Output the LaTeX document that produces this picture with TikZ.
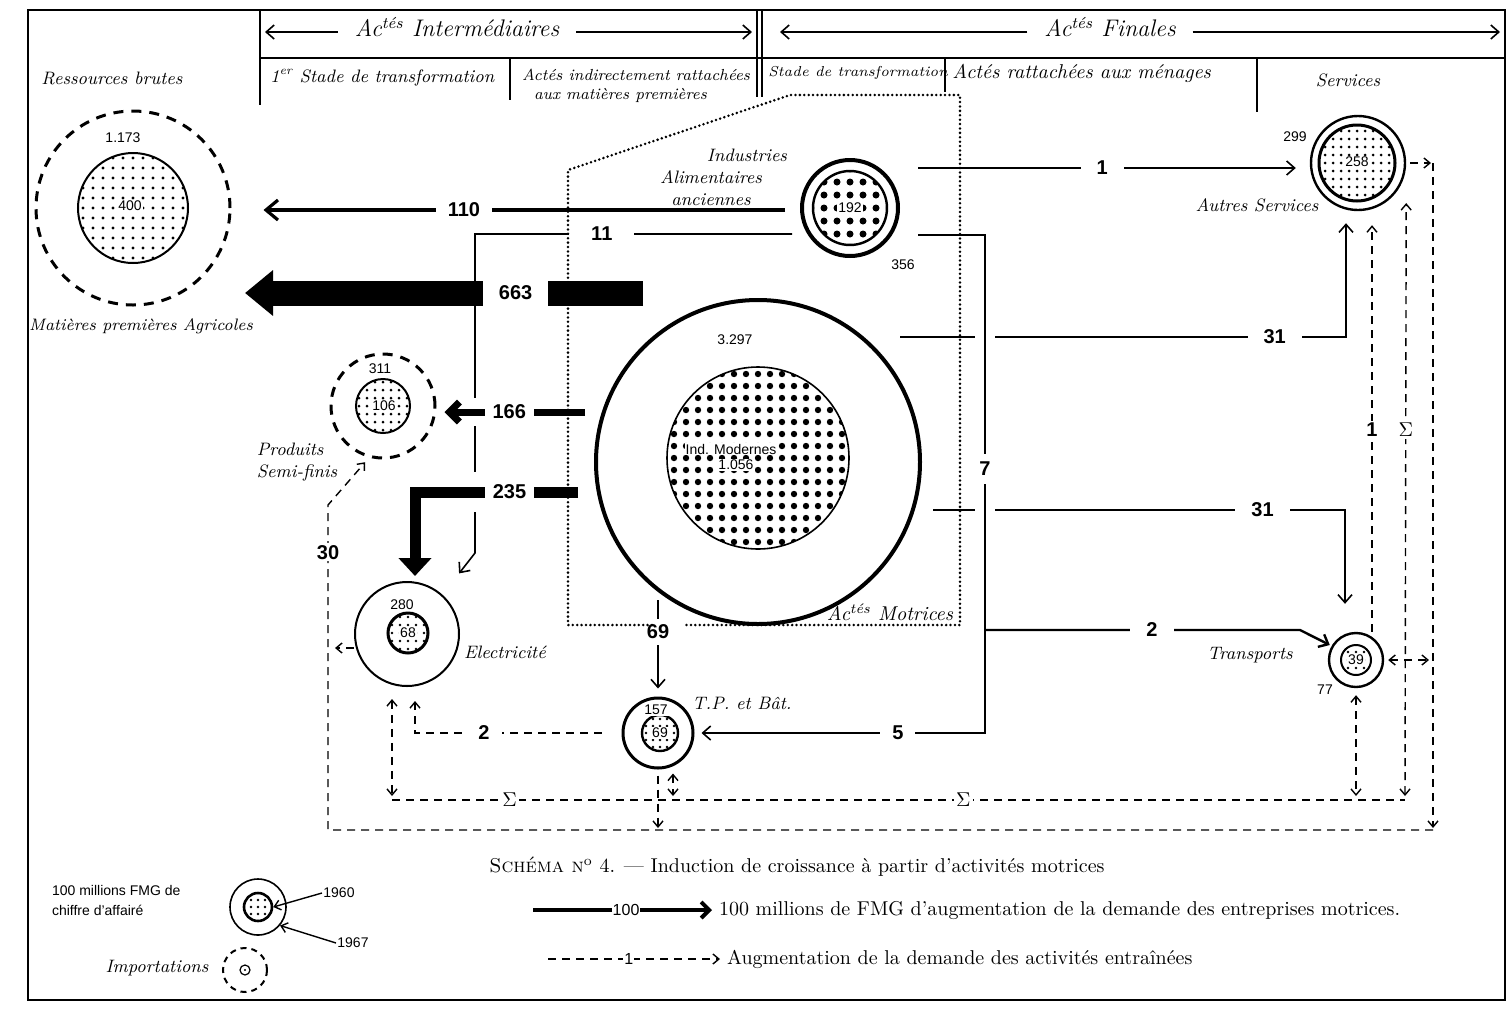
\documentclass[tikz,border=0pt]{standalone}
\usepackage{fontspec}
\setsansfont{Liberation Sans}
\usetikzlibrary{arrows.meta}

\newcommand{\dotdisc}[5]{%
  \begin{scope}
    \clip (#1,#2) circle (#3);
    \foreach \i in {-10,...,10}
      \foreach \j in {-10,...,10}
        \fill ({#1+(\i)*#4},{#2+(\j)*#4}) circle (#5);
  \end{scope}}

\begin{document}
\begin{tikzpicture}[
    x=0.5pt, y=-0.5pt,
    hand/.style={font=\small\itshape},
    headtext/.style={font=\large\itshape},
    val/.style={font=\sffamily\scriptsize, inner sep=0.5pt},
    num/.style={font=\sffamily\bfseries, fill=white, inner sep=1pt, inner xsep=4pt},
    sector/.style={circle, draw, inner sep=0pt},
    imports/.style={sector, dash pattern=on 5pt off 4pt, line width=1.5pt},
    flow/.style={-{Straight Barb[length=4pt,width=7pt]}, line width=0.8pt},
    hdr/.style={-{Straight Barb[length=4pt,width=7pt]}, line width=0.8pt},
    ind/.style={dash pattern=on 4pt off 3pt, line width=0.7pt},
    onetip/.style={-{Straight Barb[length=3pt,width=5pt]}},
    twotips/.style={{Straight Barb[length=3pt,width=5pt]}-{Straight Barb[length=3pt,width=5pt]}},
    hline/.style={line width=1.2pt},
    crossgap/.style={preaction={draw=white, line width=#1, arrows=-}},
    motrice/.style={dash pattern=on 0pt off 2.2pt, line cap=round, line width=1.4pt}
]
\useasboundingbox (0,0) rectangle (1511,1008);

\draw[hline] (28,10) rectangle (1505,1000);
\draw[hline] (260,10) -- (260,105);
\draw[hline] (260,58) -- (1505,58);
\draw[hline] (510,58) -- (510,100);
\draw[hline] (757,10) -- (757,97);
\draw[hline] (762,10) -- (762,97);
\draw[hline] (945,58) -- (945,92);
\draw[hline] (1257,58) -- (1257,112);

\coordinate (iL) at (265,32);
\coordinate (iR) at (752,32);
\coordinate (fL) at (780,32);
\coordinate (fR) at (1500,32);
\node[headtext] (inter) at (457,27) {Ac\textsuperscript{tés} Intermédiaires};
\node[headtext] (fin) at (1110,27) {Ac\textsuperscript{tés} Finales};
\draw[hdr, shorten <=5pt] ([yshift=-2.5pt]inter.west) -- (iL);
\draw[hdr, shorten <=5pt] ([yshift=-2.5pt]inter.east) -- (iR);
\draw[hdr, shorten <=5pt] ([yshift=-2.5pt]fin.west) -- (fL);
\draw[hdr, shorten <=5pt] ([yshift=-2.5pt]fin.east) -- (fR);

\node[hand] at (112,78) {Ressources brutes};
\node[hand, anchor=west] at (263,78) {1\textsuperscript{er} Stade de transformation};
\node[hand, font=\footnotesize\itshape, anchor=west, align=left] at (515,86)
    {Actés indirectement rattachées\\\hspace*{6pt}aux matières premières};
\node[hand, font=\fontsize{7.2}{9}\selectfont\itshape, anchor=west, inner sep=1pt] at (766,73) {Stade de transformation};
\node[hand, font=\normalsize\itshape, anchor=west, inner sep=1pt] at (950,73) {Actés rattachées aux ménages};
\node[hand] at (1348,80) {Services};

\dotdisc{133}{208}{55}{10}{1.7}
\node[imports, minimum size=97pt] (mpa) at (133,208) {};
\node[sector, line width=1pt, minimum size=55pt] (mpai) at (133,208) {};
\node[val] at (123,138) {1.173};
\node[val, fill=white] at (130,206) {400};
\node[hand, font=\fontsize{8.3}{10}\selectfont\itshape] at (141,326) {Matières premières Agricoles};

\dotdisc{850}{208}{37}{13}{3.5}
\node[sector, line width=2pt, minimum size=48pt] (ia) at (850,208) {};
\node[sector, line width=1.2pt, minimum size=37pt] (iai) at (850,208) {};
\node[val, fill=white] at (850,208) {192};
\node[val] at (903,265) {356};
\node[hand, align=center] at (711,177) {\hspace*{36pt}Industries\\Alimentaires\\anciennes};

\dotdisc{758}{458}{91}{12}{3.2}
\node[sector, line width=2pt, minimum size=162pt] (im) at (758,462) {};
\node[sector, line width=0.8pt, minimum size=91pt] (imi) at (758,458) {};
\node[val] at (735,340) {3.297};
\node[val, fill=white] at (731,449) {Ind. Modernes};
\node[val, fill=white] at (736,465) {1.056};

\dotdisc{383}{406}{27}{8}{1.5}
\node[imports, minimum size=52pt] (psf) at (383,406) {};
\node[sector, line width=1pt, minimum size=27pt] (psfi) at (383,406) {};
\node[val, fill=white] at (380,369) {311};
\node[val, fill=white] at (384,406) {106};
\node[hand, align=left] at (297,462) {Produits\\Semi-finis};

\dotdisc{408}{633}{20}{8}{1.3}
\node[sector, line width=1pt, minimum size=52pt] (elec) at (407,634) {};
\node[sector, line width=1.5pt, minimum size=20pt] (eleci) at (408,633) {};
\node[val] at (402,605) {280};
\node[val, fill=white] at (408,633) {68};
\node[hand] at (505,652) {Electricité};

\dotdisc{660}{733}{18}{7}{1.3}
\node[sector, line width=1.5pt, minimum size=35pt] (tp) at (658,733) {};
\node[sector, line width=1.2pt, minimum size=18pt] (tpi) at (660,733) {};
\node[val, fill=white] at (656,710) {157};
\node[val, fill=white] at (660,733) {69};
\node[hand] at (742,703) {T.P. et Bât.};

\dotdisc{1357}{163}{38}{8}{1.5}
\node[sector, line width=1.2pt, minimum size=47pt] (as) at (1358,163) {};
\node[sector, line width=1.5pt, minimum size=38pt] (asi) at (1357,163) {};
\node[val] at (1295,137) {299};
\node[val, fill=white] at (1357,162) {258};
\node[hand] at (1257,205) {Autres Services};

\dotdisc{1356}{660}{15}{8}{1.3}
\node[sector, line width=1.2pt, minimum size=27pt] (tr) at (1356,660) {};
\node[sector, line width=1pt, minimum size=15pt] (tri) at (1356,660) {};
\node[val, fill=white] at (1356,660) {39};
\node[val] at (1325,690) {77};
\node[hand] at (1250,655) {Transports};

\coordinate (s110) at (785,210);
\coordinate (s663) at (643,293);
\coordinate (t663) at (245,293);
\coordinate (s166) at (585,412);
\coordinate (s235) at (578,492);
\coordinate (s11) at (792,234);
\coordinate (s69) at (658,600);
\coordinate (s7) at (918,235);
\coordinate (s31a) at (900,337);
\coordinate (s31b) at (933,510);
\coordinate (s2) at (985,630);
\coordinate (s1) at (918,168);

\draw[flow, line width=1.6pt, -{Straight Barb[length=6pt,width=10pt]}, shorten >=16pt]
    (s110) -- node[num, pos=0.58, inner xsep=6pt] {110} (s110 -| mpa.east);
\draw[line width=12.5pt, -{Triangle[length=14pt,width=22pt]}]
    (s663) -- node[num, pos=0.32, minimum height=15pt, inner xsep=8pt] {663} (t663);
\draw[flow] (s11) -- node[num, pos=0.6, inner xsep=11pt] {11} (475,234) -- (475,553)
    -- ([shift={(9pt,10pt)}]elec.50);
\draw[line width=3.5pt, -{Straight Barb[length=5pt,width=10pt]}, crossgap=14pt, shorten >=4pt]
    (s166) -- node[num, pos=0.51] {166} (s166 -| psf.east);
\draw[line width=5.5pt, -{Triangle[length=9pt,width=16pt]}, crossgap=20pt, shorten >=2.5pt]
    (s235) -| node[num, pos=0.21] {235} ([xshift=4pt]elec.north);
\draw[flow, shorten >=4pt] (s69) -- node[num, pos=0.33, inner ysep=3pt] {69} (tp.north);
\draw[flow, shorten >=7pt] (s1) -- node[num, pos=0.47, inner xsep=8pt] {1} (s1 -| as.west);
\draw[flow, shorten >=6pt] (s31a) -| node[num, pos=0.42, inner xsep=8pt] {31} ([xshift=-6pt]as.south);
\draw[flow, shorten >=14pt] (s31b) -| node[num, pos=0.4, inner xsep=8pt] {31} ([xshift=-5.5pt]tr.north);
\draw[flow, crossgap=10pt, shorten >=3.5pt] (s7) -- (985,235)
    -- node[num, pos=0.47, inner ysep=4pt] {7} (985,733)
    -- node[num, pos=0.3, inner xsep=6pt] {5} (tp.east);
\draw[flow, line width=1.2pt, shorten >=1pt] (s2) -- node[num, pos=0.53, inner xsep=8pt] {2} (1300,630) -- (tr.150);

\draw[motrice] (652,625) -- (568,625) -- (568,170) -- (790,95) -- (960,95) -- (960,625) -- (683,625);
\node[hand, font=\normalsize\itshape] at (890,612) {Ac\textsuperscript{tés} Motrices};

\coordinate (sigL) at (392,800);
\coordinate (sigR) at (1405,800);
\coordinate (loopL) at (328,830);
\coordinate (loopR) at (1433,830);
\coordinate (tpS) at (673,800);
\coordinate (eL) at (328,648);

\draw[ind, onetip, shorten >=7pt] ([xshift=8pt]tr.north) -- node[num, pos=0.48] {1} ([xshift=7pt]as.south);
\draw[ind, twotips, shorten <=2pt] (sigR) -- node[fill=white, inner sep=1pt, pos=0.62] {$\Sigma$} ([yshift=-20pt]as.east);
\draw[ind] (sigL) -- node[fill=white, inner sep=1pt, pos=0.116] {$\Sigma$}
    node[fill=white, inner sep=1pt, pos=0.564] {$\Sigma$} (sigR);
\draw[ind, twotips, shorten >=2pt] ([xshift=-7.5pt,yshift=-6pt]elec.south) -- (sigL);
\draw[ind, onetip] ([xshift=-10pt]tp.west) -- node[num, pos=0.63, inner xsep=6pt] {2} (415,733)
    -- ([xshift=4pt,yshift=-7pt]elec.south);
\draw[ind, onetip, shorten >=1pt] ([yshift=-3pt]tp.south) -- (tp.south |- loopL);
\draw[ind, twotips, shorten >=2pt] ([xshift=7.5pt,yshift=-2pt]tp.south) -- (tpS);
\draw[ind, twotips, shorten >=2pt] ([yshift=-3.5pt]tr.south) -- (tr.south |- sigR);
\draw[ind, twotips, shorten >=2pt] ([xshift=2pt]tr.east) -- (tr.east -| loopR);
\draw[ind, onetip, shorten >=1pt] ([xshift=2pt]as.east) -- (as.east -| loopR);
\draw[ind, onetip, shorten >=1pt] (as.east -| loopR) -- (loopR);
\draw[ind, onetip, shorten >=3pt] (loopR) -- (loopL) -- node[num, pos=0.855] {30} (328,505) -- (psf.255);
\draw[ind, onetip, shorten >=3.5pt] ([yshift=-7pt]elec.west) -- (eL);

\node[font=\sffamily\scriptsize, anchor=west, align=left] at (45,900) {100 millions FMG de\\[2pt]chiffre d'affairé};
\dotdisc{258}{907}{14}{7}{1.3}
\node[sector, line width=0.8pt, minimum size=28pt] (key) at (258,907) {};
\node[sector, line width=1.3pt, minimum size=14pt] (keyi) at (258,907) {};
\node[val, anchor=west] (k1960) at (322,893) {1960};
\node[val, anchor=west] (k1967) at (336,943) {1967};
\draw[onetip, line width=0.7pt] (k1960.west) -- (keyi.east);
\draw[onetip, line width=0.7pt] (k1967.west) -- (key.-40);
\node[hand] at (157,968) {Importations};
\node[imports, line width=1pt, dash pattern=on 3pt off 2.5pt, minimum size=22pt] (imp) at (245,970) {};
\node[sector, line width=0.6pt, minimum size=5pt] (impi) at (imp.center) {};
\fill (impi) circle (1.2);

\node (caption) at (797,867) {\textsc{Schéma n}\textsuperscript{o}~4. --- Induction de croissance à partir d'activités motrices};
\coordinate (k1s) at (533,910);
\node[anchor=west] (k1) at (712,910) {100 millions de FMG d'augmentation de la demande des entreprises motrices.};
\draw[line width=2pt, -{Straight Barb[length=4pt,width=8pt]}]
    (k1s) -- node[fill=white, font=\sffamily\footnotesize, inner sep=0.5pt, pos=0.52] {100} (k1.west);
\coordinate (k2s) at (548,959);
\node[anchor=west] (k2) at (720,959) {Augmentation de la demande des activités entraînées};
\draw[ind, onetip] (k2s) -- node[fill=white, font=\sffamily\footnotesize, inner sep=0.5pt, pos=0.47] {1} (k2.west);

\end{tikzpicture}
\end{document}
